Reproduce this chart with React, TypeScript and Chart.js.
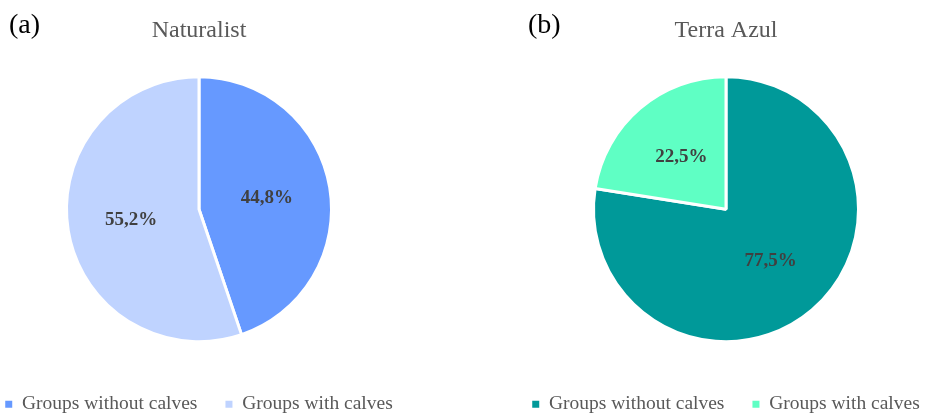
import React, { useEffect, useRef } from "react";
import { Chart, registerables } from "chart.js";

Chart.register(...registerables);

const categories = ["Groups without calves", "Groups with calves"];
const naturalistValues = [44.8, 55.2];
const terraAzulValues = [77.5, 22.5];
const naturalistColors = ["#6699FF", "#BFD3FF"];
const terraAzulColors = ["#009999", "#5FFFC4"];
const panelTitles = ["Naturalist", "Terra Azul"];
const panelTags = ["(a)", "(b)"];

const SERIF = "'Liberation Serif', 'Times New Roman', serif";
const CANVAS_W = 526;
const CANVAS_H = 424;

const fmt = (v: number) => v.toFixed(1).replace(".", ",") + "%";

const sliceLabels = {
  id: "sliceLabels",
  afterDatasetsDraw(chart: any) {
    const ctx = chart.ctx;
    const meta = chart.getDatasetMeta(0);
    const data = chart.data.datasets[0].data as number[];
    ctx.save();
    ctx.font = `bold 19px ${SERIF}`;
    ctx.fillStyle = "#404040";
    ctx.textAlign = "center";
    ctx.textBaseline = "middle";
    meta.data.forEach((arc: any, i: number) => {
      const { x, y, startAngle, endAngle, outerRadius } = arc.getProps(
        ["x", "y", "startAngle", "endAngle", "outerRadius"],
        true
      );
      const mid = (startAngle + endAngle) / 2;
      const r = outerRadius * 0.52;
      ctx.fillText(fmt(data[i]), x + Math.cos(mid) * r, y + Math.sin(mid) * r);
    });
    ctx.restore();
  },
};

const panelTag = {
  id: "panelTag",
  afterDraw(chart: any, _args: any, opts: any) {
    if (!opts || !opts.text) return;
    const ctx = chart.ctx;
    ctx.save();
    ctx.font = `28px ${SERIF}`;
    ctx.fillStyle = "#000000";
    ctx.textAlign = "left";
    ctx.textBaseline = "middle";
    ctx.fillText(opts.text, opts.x, opts.y);
    ctx.restore();
  },
};

function PiePanel(props: {
  values: number[];
  colors: string[];
  title: string;
  tag: string;
  left: number;
  tagX: number;
}) {
  const ref = useRef<HTMLCanvasElement | null>(null);
  useEffect(() => {
    if (!ref.current) return;
    const chart = new Chart(ref.current, {
      type: "pie",
      data: {
        labels: categories,
        datasets: [
          {
            data: props.values,
            backgroundColor: props.colors,
            borderColor: "#FFFFFF",
            borderWidth: 3,
            radius: 132.5,
          } as any,
        ],
      },
      options: {
        responsive: false,
        animation: false,
        layout: { padding: 0 },
        plugins: {
          title: {
            display: true,
            text: props.title,
            color: "#595959",
            font: { family: SERIF, size: 24, weight: "normal" },
            padding: { top: 16, bottom: 7 },
          },
          legend: {
            display: true,
            position: "bottom",
            labels: {
              color: "#595959",
              font: { family: SERIF, size: 19.5 },
              boxWidth: 7,
              boxHeight: 7,
              padding: 28,
              generateLabels: (c: any) =>
                (Chart as any).overrides.pie.plugins.legend.labels
                  .generateLabels(c)
                  .map((it: any) => ({
                    ...it,
                    lineWidth: 0,
                    strokeStyle: "rgba(0,0,0,0)",
                  })),
            },
          },
          tooltip: { enabled: false },
          panelTag: { text: props.tag, x: props.tagX, y: 26 },
        } as any,
      },
      plugins: [sliceLabels, panelTag],
    });
    return () => chart.destroy();
  }, []);
  return (
    <canvas
      ref={ref}
      width={CANVAS_W}
      height={CANVAS_H}
      style={{
        position: "absolute",
        left: props.left,
        top: 0,
        width: CANVAS_W,
        height: CANVAS_H,
      }}
    />
  );
}

export default function App() {
  return (
    <div
      style={{
        position: "fixed",
        left: 0,
        top: 0,
        width: 925,
        height: 417,
        overflow: "hidden",
        background: "#FFFFFF",
      }}
    >
      <PiePanel
        values={naturalistValues}
        colors={naturalistColors}
        title={panelTitles[0]}
        tag={panelTags[0]}
        left={-64}
        tagX={73}
      />
      <PiePanel
        values={terraAzulValues}
        colors={terraAzulColors}
        title={panelTitles[1]}
        tag={panelTags[1]}
        left={463}
        tagX={65}
      />
    </div>
  );
}
